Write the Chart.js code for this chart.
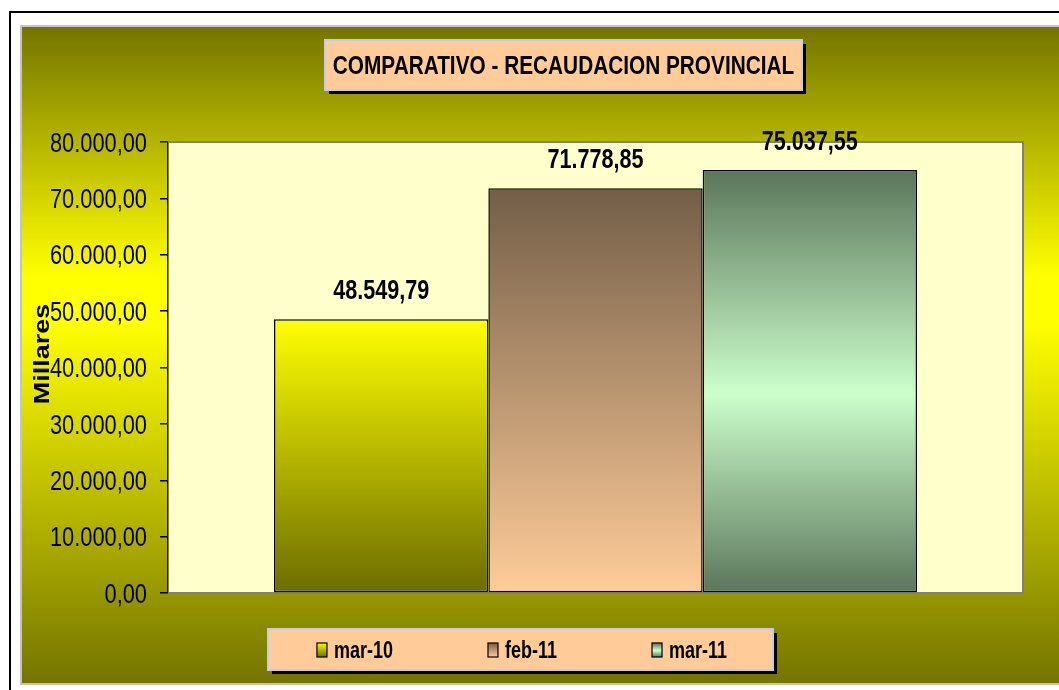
<!DOCTYPE html>
<html>
<head>
<meta charset="utf-8">
<script src="https://cdn.jsdelivr.net/npm/chart.js@4"></script>
<style>
  body { margin: 0; background: #fff; }
  #wrap { width: 1059px; height: 690px; }
</style>
</head>
<body>
<div id="wrap"><canvas id="myChart" width="1059" height="690"></canvas></div>
<script>
// data
var categories = ['Recaudacion'];
var seriesLabels = ['mar-10', 'feb-11', 'mar-11'];
var seriesValues = [48549.79, 71778.85, 75037.55];
var yMin = 0, yMax = 80000, yStep = 10000;
var chartTitle = 'COMPARATIVO - RECAUDACION PROVINCIAL';
var axisTitle = 'Millares';

// gradient stops per series (top -> bottom of the bar)
var seriesStops = [
    [[0, '#ffff00'], [1, '#6c6c00']],
    [[0, '#735e48'], [1, '#ffcc99']],
    [[0, '#5b755b'], [0.53, '#ccffcc'], [1, '#5b755b']]
];

function fmt(v) {
    var p = v.toFixed(2).split('.');
    return p[0].replace(/\B(?=(\d{3})+(?!\d))/g, '.') + ',' + p[1];
}

function grad(ctx, stops, top, bottom) {
    var g = ctx.createLinearGradient(0, top, 0, bottom);
    stops.forEach(function (s) { g.addColorStop(s[0], s[1]); });
    return g;
}

// text is drawn a bit narrow, like the original
function sqText(ctx, txt, x, y, size, bold, align, sx, rot) {
    ctx.save();
    ctx.translate(x, y);
    ctx.scale(sx, 1);
    if (rot) ctx.rotate(-Math.PI / 2);
    ctx.font = (bold ? 'bold ' : '') + size + 'px "Liberation Sans", Arial, sans-serif';
    ctx.textAlign = align;
    ctx.textBaseline = 'alphabetic';
    ctx.fillStyle = '#000';
    ctx.fillText(txt, 0, size * 0.358);
    ctx.restore();
}

function shadowBox(ctx, x, y, w, h) {
    ctx.fillStyle = '#000';
    ctx.fillRect(x + 4, y + 4, w, h);
    ctx.fillStyle = '#ffcc99';
    ctx.fillRect(x, y, w, h);
    ctx.strokeStyle = '#c8c8f4';
    ctx.lineWidth = 2;
    ctx.strokeRect(x, y, w, h);
}

var decor = {
    id: 'decor',
    beforeDraw: function (chart) {
        var ctx = chart.ctx, a = chart.chartArea;
        ctx.save();
        ctx.fillStyle = '#fff';
        ctx.fillRect(0, 0, chart.width, chart.height);
        ctx.strokeStyle = '#000';
        ctx.lineWidth = 2;
        ctx.strokeRect(10, 12, 1080, 700);
        // panel
        var g = ctx.createLinearGradient(0, 26, 0, 684);
        g.addColorStop(0, '#747400');
        g.addColorStop(0.38, '#ffff00');
        g.addColorStop(0.45, '#ffff00');
        g.addColorStop(1, '#747400');
        ctx.fillStyle = g;
        ctx.fillRect(21, 26, 1060, 658);
        ctx.strokeStyle = '#c4c4c4';
        ctx.strokeRect(21, 26, 1060, 658);
        // plot area
        ctx.fillStyle = '#ffffcc';
        ctx.fillRect(a.left, a.top, a.right - a.left, a.bottom - a.top);
        ctx.restore();
    },
    beforeDatasetsDraw: function (chart) {
        var ctx = chart.ctx, a = chart.chartArea;
        ctx.save();
        ctx.strokeStyle = '#808080';
        ctx.lineWidth = 2;
        ctx.beginPath();
        ctx.moveTo(a.left, a.top);
        ctx.lineTo(a.right, a.top);
        ctx.lineTo(a.right, a.bottom);
        ctx.lineTo(a.left, a.bottom);
        ctx.stroke();
        ctx.restore();
    },
    afterDatasetsDraw: function (chart) {
        var ctx = chart.ctx;
        chart.data.datasets.forEach(function (ds, i) {
            var bar = chart.getDatasetMeta(i).data[0];
            sqText(ctx, fmt(ds.data[0]), bar.x, bar.y - 30, 27, true, 'center', 0.8);
        });
    },
    afterDraw: function (chart) {
        var ctx = chart.ctx, a = chart.chartArea, ys = chart.scales.y;
        ctx.save();
        // y tick labels
        ys.ticks.forEach(function (t) {
            sqText(ctx, fmt(t.value), a.left - 21, ys.getPixelForValue(t.value), 27, false, 'right', 0.808);
        });
        // axis title
        sqText(ctx, axisTitle, 41, 354, 27, true, 'center', 0.8, true);
        // title box
        shadowBox(ctx, 325, 40, 477, 50);
        sqText(ctx, chartTitle, 563.5, 65, 26, true, 'center', 0.8);
        // legend box
        shadowBox(ctx, 268, 629, 505, 41);
        ctx.font = 'bold 24px "Liberation Sans", Arial, sans-serif';
        var sx = 0.75, gap = 95, widths = [], total = 0;
        chart.data.datasets.forEach(function (ds) {
            var w = 17 + ctx.measureText(ds.label).width * sx;
            widths.push(w);
            total += w;
        });
        total += gap * (widths.length - 1);
        var x = 522 - total / 2;
        chart.data.datasets.forEach(function (ds, i) {
            ctx.fillStyle = grad(ctx, seriesStops[i], 643, 657);
            ctx.fillRect(x, 643, 10, 14);
            ctx.strokeStyle = '#000';
            ctx.lineWidth = 1.2;
            ctx.strokeRect(x, 643, 10, 14);
            sqText(ctx, ds.label, x + 17, 649.5, 24, true, 'left', sx);
            x += widths[i] + gap;
        });
        ctx.restore();
    }
};

var ctx = document.getElementById('myChart').getContext('2d');
var myChart = new Chart(ctx, {
    type: 'bar',
    data: {
        labels: categories,
        datasets: seriesLabels.map(function (lab, i) {
            return {
                label: lab,
                data: [seriesValues[i]],
                backgroundColor: function (c) {
                    var chart = c.chart;
                    if (!chart.chartArea || c.raw === undefined) return seriesStops[i][0][1];
                    var y = chart.scales.y;
                    return grad(chart.ctx, seriesStops[i], y.getPixelForValue(c.raw), y.getPixelForValue(0));
                },
                borderColor: '#000',
                borderWidth: 1.5,
                borderSkipped: false
            };
        })
    },
    options: {
        responsive: false,
        animation: false,
        categoryPercentage: 0.752,
        barPercentage: 1,
        layout: {
            padding: { left: 0, top: 142, right: 36, bottom: 97 }
        },
        plugins: {
            legend: { display: false },
            title: { display: false },
            tooltip: { enabled: false }
        },
        scales: {
            x: { display: false },
            y: {
                min: yMin,
                max: yMax,
                ticks: { stepSize: yStep, display: false },
                grid: { drawOnChartArea: false, drawTicks: true, tickLength: 8, color: '#000', lineWidth: 1.5 },
                border: { color: '#000', width: 1.5 },
                afterFit: function (scale) { scale.width = 168; }
            }
        }
    },
    plugins: [decor]
});
</script>
</body>
</html>
